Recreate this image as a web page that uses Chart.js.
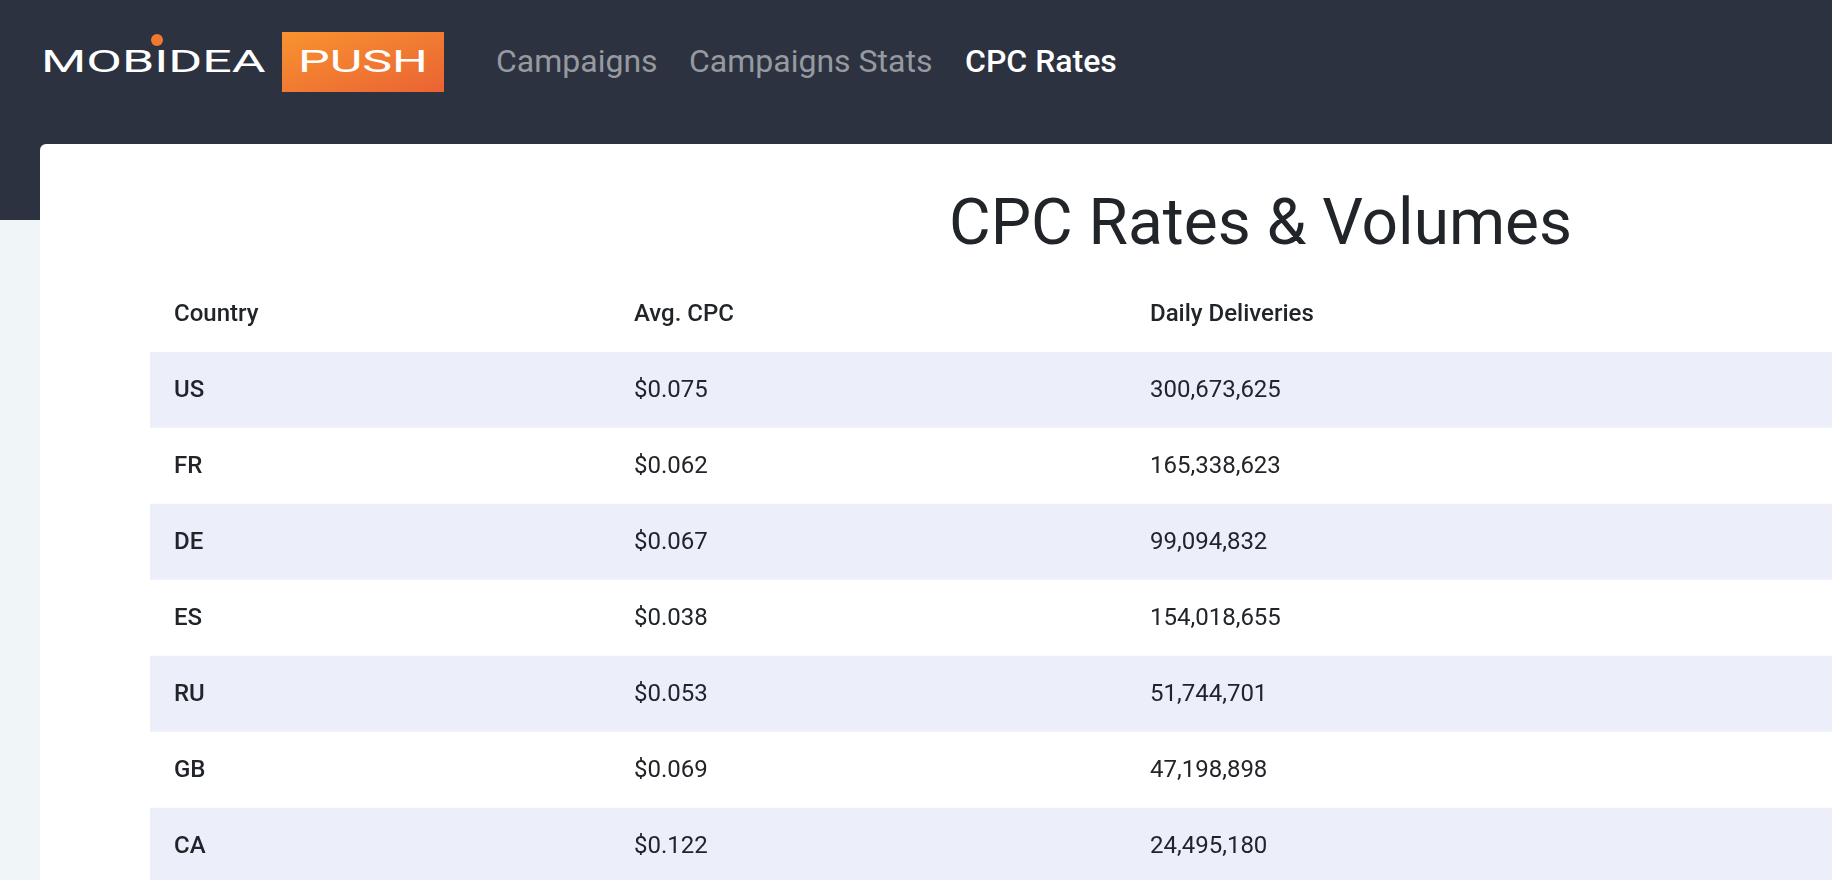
<!DOCTYPE html>
<html lang="en">
<head>
    <meta charset="UTF-8">
    <title>CPC Rates &amp; Volumes</title>
    <script src="https://cdn.jsdelivr.net/npm/chart.js"></script>
    <style>
        html, body { margin: 0; width: 1832px; height: 880px; overflow: hidden; background: #f0f5f8; font-family: Roboto, sans-serif; }
        .top { position: absolute; left: 0; top: 0; width: 1832px; height: 220px; background: #2c3240; }
        .card { position: absolute; left: 40px; top: 144px; width: 1800px; height: 760px; background: #fff; border-radius: 6px; }
        .box { position: absolute; left: 282px; top: 32px; width: 162px; height: 60px; background: linear-gradient(160deg, #f8932f, #ea6334); }
        .dot { position: absolute; left: 151px; top: 34px; width: 12px; height: 12px; border-radius: 50%; background: #f0792f; }
        .logo { position: absolute; top: 43px; font-size: 32px; line-height: 37px; color: #fff; transform-origin: left center; white-space: nowrap; }
        .nav { position: absolute; top: 42px; font-size: 32px; line-height: 38px; color: #969aa0; white-space: nowrap; }
        .nav.on { color: #fff; font-weight: 500; }
        h1 { position: absolute; left: 949px; top: 185px; margin: 0; font-size: 64px; line-height: 76px; font-weight: 400; color: #212529; white-space: nowrap; }
        canvas { position: absolute; left: 0; top: 0; }
    </style>
</head>
<body>
    <div class="top"></div>
    <div class="card"></div>
    <div class="dot"></div>
    <div class="logo" style="left:41px; transform:scaleX(1.62)">MOBIDEA</div>
    <div class="box"></div>
    <div class="logo" style="left:298px; transform:scaleX(1.57)">PUSH</div>
    <div class="nav" style="left:496px">Campaigns</div>
    <div class="nav" style="left:689px">Campaigns Stats</div>
    <div class="nav on" style="left:965px">CPC Rates</div>
    <h1>CPC Rates &amp; Volumes</h1>
    <canvas id="rates" width="1832" height="884"></canvas>

    <script>
        const countries = ['US', 'FR', 'DE', 'ES', 'RU', 'GB', 'CA'];
        const avgCpc = [0.075, 0.062, 0.067, 0.038, 0.053, 0.069, 0.122];
        const dailyDeliveries = [300673625, 165338623, 99094832, 154018655, 51744701, 47198898, 24495180];
        const columnLabels = ['Country', 'Avg. CPC', 'Daily Deliveries'];

        // left edge of each column, in px from the table's left side
        const columnOffsets = [24, 484, 1000];
        const tableWidth = 1682;

        const cellFormats = {
            1: v => '$' + v.toFixed(3),
            2: v => v.toLocaleString('en-US')
        };

        // no overhang padding: the table has to fill the chart area exactly
        const flatAxis = axis => {
            axis.paddingLeft = axis.paddingRight = axis.paddingTop = axis.paddingBottom = 0;
        };

        // writes the two value columns into the rows of the y axis
        const cellText = {
            id: 'cellText',
            afterDatasetsDraw(chart) {
                const { ctx, scales } = chart;
                ctx.save();
                ctx.font = '400 24px Roboto';
                ctx.fillStyle = '#212529';
                ctx.textAlign = 'left';
                ctx.textBaseline = 'middle';
                [1, 2].forEach(col => {
                    chart.data.datasets[col].data.forEach((v, i) => {
                        ctx.fillText(cellFormats[col](v), scales.x.getPixelForValue(columnOffsets[col]), scales.y.getPixelForValue(i) + 1);
                    });
                });
                ctx.restore();
            }
        };

        new Chart(document.getElementById('rates'), {
            type: 'bar',
            data: {
                labels: countries,
                datasets: [
                    {
                        label: 'Row',
                        data: countries.map(() => 1),
                        xAxisID: 'stripe',
                        backgroundColor: ctx => ctx.dataIndex % 2 === 0 ? '#eceffa' : '#ffffff',
                        barPercentage: 1,
                        categoryPercentage: 1
                    },
                    { label: columnLabels[1], data: avgCpc, xAxisID: 'stripe', hidden: true },
                    { label: columnLabels[2], data: dailyDeliveries, xAxisID: 'stripe', hidden: true }
                ]
            },
            options: {
                indexAxis: 'y',
                responsive: false,
                animation: false,
                layout: { padding: { left: 150, top: 292, right: 0, bottom: 0 } },
                plugins: { legend: { display: false }, tooltip: { enabled: false } },
                scales: {
                    stripe: { type: 'linear', axis: 'x', display: false, min: 0, max: 1 },
                    x: {
                        type: 'linear',
                        position: 'top',
                        min: 0,
                        max: tableWidth,
                        border: { display: false },
                        grid: { display: false, drawTicks: false },
                        afterBuildTicks: axis => { axis.ticks = columnOffsets.map(value => ({ value })); },
                        afterFit: axis => { axis.height = 60; flatAxis(axis); },
                        ticks: {
                            align: 'start',
                            autoSkip: false,
                            maxRotation: 0,
                            padding: 23,
                            color: '#212529',
                            font: { family: 'Roboto', size: 24, weight: '500' },
                            callback: (value, i) => columnLabels[i]
                        }
                    },
                    y: {
                        type: 'category',
                        border: { display: false },
                        grid: { display: false, drawTicks: false },
                        afterFit: axis => { axis.width = 0; flatAxis(axis); },
                        ticks: {
                            mirror: true,
                            padding: 24,
                            labelOffset: 1,
                            z: 1,
                            color: '#212529',
                            font: { family: 'Roboto', size: 24, weight: '500' }
                        }
                    }
                }
            },
            plugins: [cellText]
        });
    </script>
</body>
</html>
